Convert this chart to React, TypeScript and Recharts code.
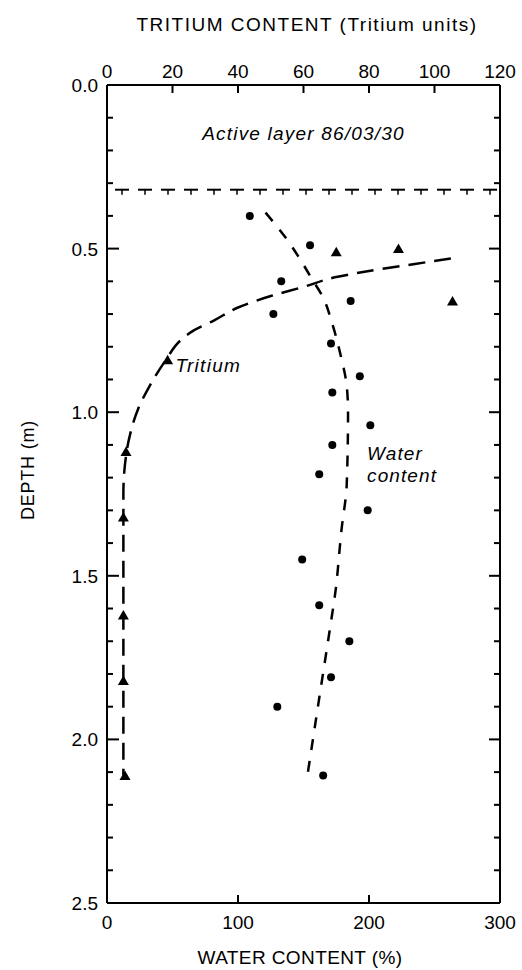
import React from "react";
import { ScatterChart, Scatter, XAxis, YAxis, ReferenceLine, ReferenceDot } from "recharts";

// measured points (depth in m)
const waterDepth = [0.4, 0.49, 0.6, 0.66, 0.7, 0.79, 0.89, 0.94, 1.04, 1.1, 1.19, 1.3, 1.45, 1.59, 1.7, 1.81, 1.9, 2.11];
const waterContent = [109, 155, 133, 186, 127, 171, 193, 172, 201, 172, 162, 199, 149, 162, 185, 171, 130, 165];

const tritiumDepth = [0.5, 0.51, 0.66, 0.84, 1.12, 1.32, 1.62, 1.82, 2.11];
const tritiumUnits = [89, 70, 105.5, 18.5, 5.8, 5, 5, 5, 5.5];

// hand-drawn trend curves
const tritiumCurveDepth = [0.53, 0.547, 0.562, 0.587, 0.617, 0.645, 0.68, 0.72, 0.75, 0.78, 0.84, 0.92, 0.99, 1.07, 1.12, 1.25, 2.11];
const tritiumCurveUnits = [105, 94, 84, 70, 60, 50, 40, 32.6, 26.5, 22.5, 18, 13, 9.5, 7, 6, 5, 5];

const waterCurveDepth = [0.39, 0.47, 0.53, 0.59, 0.65, 0.73, 0.82, 0.92, 1.0, 1.22, 1.36, 1.56, 1.64, 1.9, 2.11];
const waterCurveContent = [121, 137, 147, 156, 165, 172, 178, 183, 184, 183, 179, 174, 171, 161, 153];

const activeLayerDepth = 0.32;

const depthTicks = [0, 0.1, 0.2, 0.3, 0.4, 0.5, 0.6, 0.7, 0.8, 0.9, 1.0, 1.1, 1.2, 1.3, 1.4, 1.5, 1.6, 1.7, 1.8, 1.9, 2.0, 2.1, 2.2, 2.3, 2.4, 2.5];
const waterTicks = [0, 100, 200, 300];
const tritiumTicks = [0, 20, 40, 60, 80, 100, 120];

const FONT = '"Liberation Sans", Arial, Helvetica, sans-serif';

const zip = (xs: number[], ys: number[]) => xs.map((x, i) => ({ x, y: ys[i] }));

const waterPoints = zip(waterContent, waterDepth);
const tritiumPoints = zip(tritiumUnits, tritiumDepth);
const tritiumCurve = zip(tritiumCurveUnits, tritiumCurveDepth);
const waterCurve = zip(waterCurveContent, waterCurveDepth);

const isMajor = (v: number) => Math.abs(v * 2 - Math.round(v * 2)) < 1e-6;

// tick mark anchors on the axes, placed through the axis scales
const leftMajorMarks = depthTicks.filter(isMajor).map((y) => ({ x: 0, y }));
const leftMinorMarks = depthTicks.filter((v) => !isMajor(v)).map((y) => ({ x: 0, y }));
const topMarks = tritiumTicks.filter((v) => v > 0 && v < 120).map((x) => ({ x, y: 0 }));
const bottomMarks = waterTicks.filter((v) => v > 0 && v < 300).map((x) => ({ x, y: 2.5 }));

function LeftTick(props: any) {
  const x = Number(props.x);
  const y = Number(props.y);
  const v = props.payload.value;
  if (!isMajor(v)) return <g />;
  return (
    <text x={x - 9} y={y} dy={7} textAnchor="end" fontSize={19} fontFamily={FONT} fill="#000">
      {v.toFixed(1)}
    </text>
  );
}

const EmptyTick = () => <g />;

function TopTick(props: any) {
  return (
    <text x={Number(props.x)} y={Number(props.y)} dy={-7} textAnchor="middle" fontSize={19} fontFamily={FONT} fill="#000">
      {props.payload.value}
    </text>
  );
}

function BottomTick(props: any) {
  return (
    <text x={Number(props.x)} y={Number(props.y)} dy={26} textAnchor="middle" fontSize={19} fontFamily={FONT} fill="#000">
      {props.payload.value}
    </text>
  );
}

const rightMark = (v: number) => (p: any) => {
  const xb = Math.max(p.x1, p.x2);
  return <line x1={xb} x2={xb - (isMajor(v) ? 11 : 6)} y1={p.y1} y2={p.y1} stroke="#000" strokeWidth={2} />;
};

const hMark = (len: number) => (p: any) => (
  <path d={`M${p.cx},${p.cy}h${len}`} stroke="#000" strokeWidth={2} fill="none" />
);
const vMark = (len: number) => (p: any) => (
  <path d={`M${p.cx},${p.cy}v${len}`} stroke="#000" strokeWidth={2} fill="none" />
);

function Dot(props: any) {
  return <circle cx={props.cx} cy={props.cy} r={4} fill="#000" />;
}

function Triangle(props: any) {
  const { cx, cy } = props;
  return <polygon points={`${cx - 5.5},${cy + 4.5} ${cx + 5.5},${cy + 4.5} ${cx},${cy - 5}`} fill="#000" />;
}

const NoShape = () => <g />;

function ActiveLayerLine(props: any) {
  const xa = Math.min(props.x1, props.x2);
  const xb = Math.max(props.x1, props.x2);
  const y1 = props.y1;
  const starts: number[] = [];
  for (let s = xa + 8; s + 12 <= xb; s += 23) starts.push(s);
  return (
    <g>
      {starts.map((s) => (
        <g key={s}>
          <line x1={s} x2={s + 14} y1={y1} y2={y1} stroke="#000" strokeWidth={2} />
          <line x1={s + 7} x2={s + 7} y1={y1} y2={y1 + 5} stroke="#000" strokeWidth={1.5} />
        </g>
      ))}
    </g>
  );
}

const textLabel = (lines: string[], spacing: number, anchor: string) => (props: any) => {
  const vb = props.viewBox ?? { x: 0, y: 0, width: 0, height: 0 };
  const cx = vb.x + (vb.width ?? 0) / 2;
  const cy = vb.y + (vb.height ?? 0) / 2;
  return (
    <text x={cx} y={cy} textAnchor={anchor} fontSize={19} fontStyle="italic" fontFamily={FONT} fill="#000" letterSpacing={spacing}>
      {lines.map((l, i) => (
        <tspan key={l} x={cx} dy={i === 0 ? 7 : 22}>
          {l}
        </tspan>
      ))}
    </text>
  );
};

const titleStyle: React.CSSProperties = {
  position: "absolute",
  fontFamily: FONT,
  fontSize: 19,
  lineHeight: "22px",
  whiteSpace: "nowrap",
  color: "#000",
};

export default function App() {
  return (
    <div style={{ position: "absolute", left: 0, top: 0, width: 522, height: 970, background: "#fff" }}>
      <ScatterChart width={522} height={970} margin={{ top: 0, right: 0, bottom: 0, left: 0 }}>
        <XAxis
          xAxisId="t"
          orientation="top"
          type="number"
          dataKey="x"
          domain={[0, 120]}
          ticks={tritiumTicks}
          interval={0}
          height={85}
          tickSize={0}
          tickMargin={0}
          tickLine={false}
          axisLine={{ stroke: "#000", strokeWidth: 2 }}
          tick={TopTick}
        />
        <XAxis
          xAxisId="w"
          orientation="bottom"
          type="number"
          dataKey="x"
          domain={[0, 300]}
          ticks={waterTicks}
          interval={0}
          height={67}
          tickSize={0}
          tickMargin={0}
          tickLine={false}
          axisLine={{ stroke: "#000", strokeWidth: 2 }}
          tick={BottomTick}
        />
        <YAxis
          yAxisId="d"
          orientation="left"
          type="number"
          dataKey="y"
          domain={[0, 2.5]}
          reversed
          ticks={depthTicks}
          interval={0}
          width={107}
          tickSize={0}
          tickMargin={0}
          tickLine={false}
          axisLine={{ stroke: "#000", strokeWidth: 2 }}
          tick={LeftTick}
        />
        <YAxis
          yAxisId="r"
          orientation="right"
          type="number"
          dataKey="y"
          domain={[0, 2.5]}
          reversed
          ticks={depthTicks}
          width={22}
          tickSize={0}
          tickLine={false}
          axisLine={{ stroke: "#000", strokeWidth: 2 }}
          tick={EmptyTick}
        />

        {depthTicks.map((v) => (
          <ReferenceLine key={`d${v}`} xAxisId="w" yAxisId="d" y={v} shape={rightMark(v)} />
        ))}

        <ReferenceLine xAxisId="w" yAxisId="d" y={activeLayerDepth} shape={ActiveLayerLine} />

        <Scatter xAxisId="w" yAxisId="d" data={leftMajorMarks} fill="#000" shape={hMark(12)} isAnimationActive={false} />
        <Scatter xAxisId="w" yAxisId="d" data={leftMinorMarks} fill="#000" shape={hMark(6)} isAnimationActive={false} />
        <Scatter xAxisId="t" yAxisId="d" data={topMarks} fill="#000" shape={vMark(8)} isAnimationActive={false} />
        <Scatter xAxisId="w" yAxisId="d" data={bottomMarks} fill="#000" shape={vMark(-8)} isAnimationActive={false} />

        <Scatter
          xAxisId="t"
          yAxisId="d"
          data={tritiumCurve}
          fill="#000"
          shape={NoShape}
          line={{ stroke: "#000", strokeWidth: 2.5, strokeDasharray: "17 9" }}
          lineJointType="monotoneY"
          isAnimationActive={false}
        />
        <Scatter
          xAxisId="w"
          yAxisId="d"
          data={waterCurve}
          fill="#000"
          shape={NoShape}
          line={{ stroke: "#000", strokeWidth: 2.5, strokeDasharray: "11 11" }}
          lineJointType="monotoneY"
          isAnimationActive={false}
        />
        <Scatter xAxisId="w" yAxisId="d" data={waterPoints} fill="#000" shape={Dot} isAnimationActive={false} />
        <Scatter xAxisId="t" yAxisId="d" data={tritiumPoints} fill="#000" shape={Triangle} isAnimationActive={false} />

        <ReferenceDot
          xAxisId="w"
          yAxisId="d"
          x={150}
          y={0.147}
          r={0}
          fill="none"
          stroke="none"
          label={{ content: textLabel(["Active layer 86/03/30"], 1.2, "middle") }}
        />
        <ReferenceDot
          xAxisId="t"
          yAxisId="d"
          x={20.9}
          y={0.856}
          r={0}
          fill="none"
          stroke="none"
          label={{ content: textLabel(["Tritium"], 1.3, "start") }}
        />
        <ReferenceDot
          xAxisId="w"
          yAxisId="d"
          x={198.5}
          y={1.125}
          r={0}
          fill="none"
          stroke="none"
          label={{ content: textLabel(["Water", "content"], 1.1, "start") }}
        />
      </ScatterChart>
      <div style={{ ...titleStyle, left: 307, top: 14, transform: "translateX(-50%)", letterSpacing: 1.5 }}>
        TRITIUM CONTENT (Tritium units)
      </div>
      <div style={{ ...titleStyle, left: 300, top: 947, transform: "translateX(-50%)", letterSpacing: 0.4 }}>
        WATER CONTENT (%)
      </div>
      <div style={{ ...titleStyle, fontSize: 18, left: 28, top: 470, transform: "translate(-50%, -50%) rotate(-90deg)", letterSpacing: 0.8 }}>
        DEPTH (m)
      </div>
    </div>
  );
}
